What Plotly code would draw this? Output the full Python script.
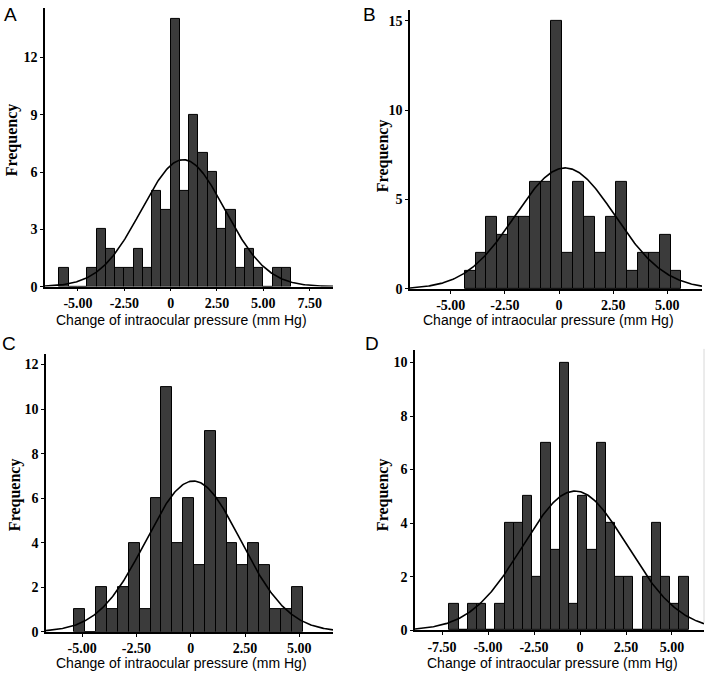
import numpy as np
import plotly.graph_objects as go

W, H = 708, 684
BIN = 0.5

# bar counts per panel (bins of width 0.5, from the given start)
a_start = -6.0
a_counts = [1, 0, 0, 1, 3, 2, 1, 1, 2, 1, 5, 4, 14, 5, 9, 7, 6, 3, 4, 1, 2, 1, 0, 1, 1]
b_start = -4.35
b_counts = [1, 2, 4, 3, 4, 4, 6, 6, 15, 2, 6, 4, 2, 4, 6, 1, 2, 2, 3, 1]
c_start = -5.35
c_counts = [1, 0, 2, 1, 2, 4, 1, 6, 11, 4, 6, 3, 9, 6, 4, 3, 4, 3, 1, 1, 2]
d_start = -7.1
d_counts = [1, 0, 1, 1, 0, 1, 4, 4, 5, 2, 7, 3, 10, 1, 5, 3, 7, 4, 2, 2, 0, 2, 4, 2, 1, 2]

# fitted normal curve (mean, sd)
a_fit = (0.68, 2.25)
b_fit = (0.28, 2.30)
c_fit = (0.12, 2.18)
d_fit = (-0.27, 2.84)

a_xticks = [-5, -2.5, 0, 2.5, 5, 7.5]
b_xticks = [-5, -2.5, 0, 2.5, 5]
c_xticks = [-5, -2.5, 0, 2.5, 5]
d_xticks = [-7.5, -5, -2.5, 0, 2.5, 5]
a_yticks = [0, 3, 6, 9, 12]
b_yticks = [0, 5, 10, 15]
c_yticks = [0, 2, 4, 6, 8, 10, 12]
d_yticks = [0, 2, 4, 6, 8, 10]


def fmt(v):
    return "0" if v == 0 else f"{v:.2f}"


def px(x):
    return x / W


def py(y):
    return 1 - y / H


panels = [
    # letter, start, counts, fit, xticks, yticks, xrange, yrange, x px, y px, letter pos, ytitle pos, xtitle pos
    ("A", a_start, a_counts, a_fit, a_xticks, a_yticks, [-6.78, 8.76], [0, 14.6], (45, 333), (8, 290), (10, 15), (12, 142), (181, 324)),
    ("B", b_start, b_counts, b_fit, b_xticks, b_yticks, [-6.88, 6.6], [0, 15.6], (410, 702), (10, 292.3), (369, 15), (383, 158), (548, 324)),
    ("C", c_start, c_counts, c_fit, c_xticks, c_yticks, [-6.66, 6.55], [0, 12.47], (46, 333), (358.3, 639.3), (9, 348), (15, 501), (181, 671)),
    ("D", d_start, d_counts, d_fit, d_xticks, d_yticks, [-8.97, 6.74], [0, 10.47], (415, 704), (354, 637.7), (372, 348), (383, 501), (552, 671)),
]

tick_font = dict(family="Liberation Serif", size=14, color="black")

fig = go.Figure()
annotations = []
layout = {}

for i, (letter, start, counts, fit, xt, yt, xr, yr, xpx, ypx, lpos, ytpos, xtpos) in enumerate(panels):
    n = i + 1
    xa = "x" if n == 1 else f"x{n}"
    ya = "y" if n == 1 else f"y{n}"
    centers = [start + BIN * (k + 0.5) for k in range(len(counts))]
    fig.add_trace(go.Bar(
        x=centers, y=counts, width=BIN,
        marker=dict(color="#3b3b3b", line=dict(color="black", width=1)),
        xaxis=xa, yaxis=ya, showlegend=False,
    ))
    mu, sd = fit
    total = sum(counts)
    xs = np.linspace(xr[0], xr[1], 300)
    ys = total * BIN * np.exp(-0.5 * ((xs - mu) / sd) ** 2) / (sd * np.sqrt(2 * np.pi))
    fig.add_trace(go.Scatter(
        x=xs, y=ys, mode="lines", line=dict(color="black", width=1.6),
        xaxis=xa, yaxis=ya, showlegend=False, cliponaxis=True,
    ))
    common = dict(showline=True, linecolor="black", linewidth=1.5, ticks="outside",
                  ticklen=3, tickwidth=1, tickcolor="black", showgrid=False,
                  zeroline=False, tickfont=tick_font)
    layout[f"xaxis{'' if n == 1 else n}"] = dict(
        common, domain=[px(xpx[0]), px(xpx[1])], range=xr, anchor=ya,
        tickvals=xt, ticktext=[f"<b>{fmt(v)}</b>" for v in xt],
    )
    layout[f"yaxis{'' if n == 1 else n}"] = dict(
        common, domain=[py(ypx[1]), py(ypx[0])], range=yr, anchor=xa,
        tickvals=yt, ticktext=[f"<b>{v}</b>" for v in yt],
    )
    annotations.append(dict(text=letter, x=px(lpos[0]), y=py(lpos[1]), xref="paper", yref="paper",
                            xanchor="center", yanchor="middle", showarrow=False,
                            font=dict(family="Liberation Sans", size=19, color="black")))
    annotations.append(dict(text="<b>Frequency</b>", x=px(ytpos[0]), y=py(ytpos[1]), xref="paper", yref="paper",
                            xanchor="center", yanchor="middle", showarrow=False, textangle=-90,
                            font=dict(family="Liberation Serif", size=16, color="black")))
    annotations.append(dict(text="Change of intraocular pressure (mm Hg)", x=px(xtpos[0]), y=py(xtpos[1]),
                            xref="paper", yref="paper", xanchor="center", yanchor="middle", showarrow=False,
                            font=dict(family="Liberation Sans", size=14, color="black")))

fig.update_layout(
    **layout,
    annotations=annotations,
    width=W, height=H,
    margin=dict(l=0, r=0, t=0, b=0),
    plot_bgcolor="white", paper_bgcolor="white",
    bargap=0,
    shapes=[dict(type="line", xref="paper", yref="paper", x0=px(704), x1=px(704),
                 y0=py(353), y1=py(630), line=dict(color="#d8d8d8", width=1))],
)

# drop the browser's default page margin so the figure sits at the window origin
fig.write_html("out.html", config={"displayModeBar": False},
               post_script="document.body.style.margin='0';")
